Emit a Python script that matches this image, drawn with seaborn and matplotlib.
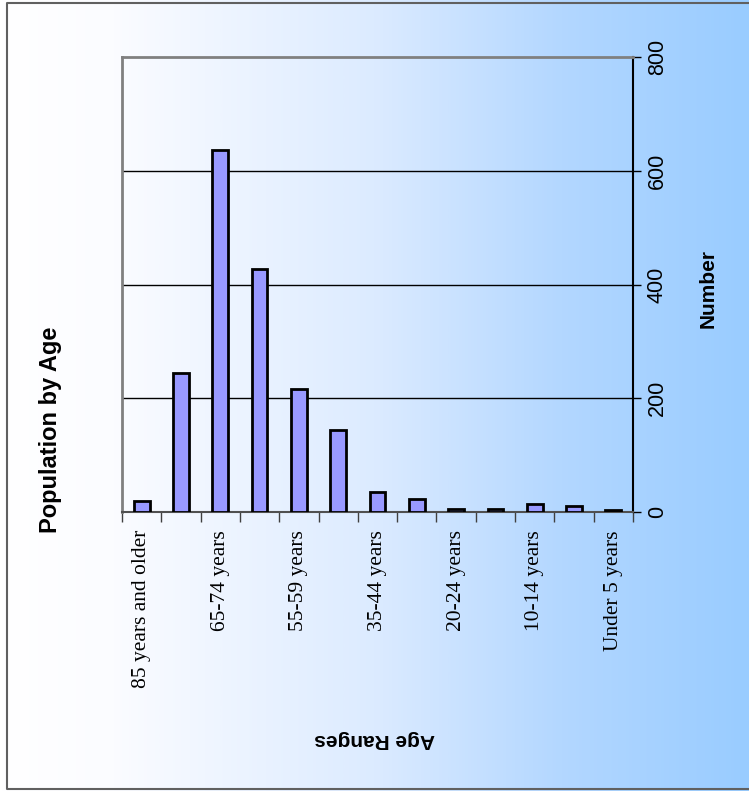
import numpy as np
import pandas as pd
import matplotlib
matplotlib.use("Agg")
import matplotlib.pyplot as plt
import seaborn as sns
from matplotlib.colors import LinearSegmentedColormap

categories = ["85 years and older", "75-84 years", "65-74 years", "60-64 years",
              "55-59 years", "45-54 years", "35-44 years", "25-34 years",
              "20-24 years", "15-19 years", "10-14 years", "5-9 years",
              "Under 5 years"]
values = [20, 245, 637, 428, 217, 144, 36, 22, 6, 6, 14, 10, 4]
yticks = [0, 200, 400, 600, 800]

df = pd.DataFrame({"age": categories, "number": values})

sns.set_theme(style="white")
plt.rcParams["font.family"] = ["Liberation Sans", "DejaVu Sans"]
plt.rcParams["text.color"] = "black"
plt.rcParams["xtick.color"] = "black"
plt.rcParams["ytick.color"] = "black"
plt.rcParams["axes.labelcolor"] = "black"

fig = plt.figure(figsize=(7.49, 7.91), dpi=100)

# background gradient
bg = fig.add_axes([0, 0, 1, 1], zorder=0)
cmap = LinearSegmentedColormap.from_list(
    "g", [(0.0, "#ffffff"), (0.15, "#fbfcff"), (0.5, "#dcebff"),
          (0.75, "#b3d7ff"), (1.0, "#99ccff")])
grad = np.linspace(0, 1, 512).reshape(1, -1)
bg.imshow(grad, aspect="auto", cmap=cmap, extent=[0, 1, 0, 1])
x0, ytop, ybot = 7/749, 1 - 3/791, 1 - 789/791
bg.plot([1.01, x0, x0, 1.01], [ytop, ytop, ybot, ybot], color="#606060", lw=1.5)
bg.set_xlim(0, 1); bg.set_ylim(0, 1)
bg.axis("off")

ax = fig.add_axes([122/749, 1 - 512/791, (633 - 122)/749, (512 - 57)/791], zorder=1)
ax.set_facecolor("none")
sns.barplot(data=df, x="age", y="number", order=categories, color="#9999ff",
            edgecolor="black", linewidth=2, width=0.4, saturation=1, ax=ax, zorder=3)

ax.set_ylim(0, 800)
ax.set_xlim(-0.5, len(categories) - 0.5)
ax.set_yticks(yticks)
ax.tick_params(axis="y", direction="out", length=6, width=1, color="black",
               pad=4, right=True, left=False, labelright=True, labelleft=False,
               labelsize=15.5)
for t in yticks[1:-1]:
    ax.axhline(t, color="black", lw=1, zorder=1)

# category axis: ticks between categories, labels every other category
ax.set_xticks(np.arange(-0.5, len(categories), 1.0), minor=True)
ax.set_xticks(np.arange(0, len(categories), 2))
ax.set_xticklabels([categories[i] for i in range(0, len(categories), 2)],
                   family="Liberation Serif")
ax.tick_params(axis="x", which="major", length=0, pad=13, labelsize=15.5)
ax.tick_params(axis="x", which="minor", direction="out", length=7, width=1,
               color="#404040", bottom=True)
ax.set_xlabel("")
ax.set_ylabel("")

for tick in ax.yaxis.get_major_ticks():
    for lab in (tick.label1, tick.label2):
        lab.set_fontfamily("Liberation Sans")
        lab.set_rotation(90)
        lab.set_va("center")
        lab.set_ha("left")
for tick in ax.xaxis.get_major_ticks():
    tick.label1.set_fontfamily("Liberation Serif")
    tick.label1.set_rotation(90)
    tick.label1.set_va("top")
    tick.label1.set_ha("center")

for s in ["left", "top"]:
    ax.spines[s].set_color("#808080")
    ax.spines[s].set_linewidth(2)
ax.spines["right"].set_color("black")
ax.spines["right"].set_linewidth(1.5)
ax.spines["bottom"].set_color("#505050")
ax.spines["bottom"].set_linewidth(1.5)

fig.text(51/749, 1 - 430/791, "Population by Age", rotation=90, ha="center",
         va="center", fontsize=17, fontweight="bold", color="black")
fig.text(708/749, 1 - 288/791, "Number", rotation=90, ha="center",
         va="center", fontsize=15, fontweight="bold", color="black")
fig.text(375/749, 1 - 740/791, "Age Ranges", rotation=180, ha="center",
         va="center", fontsize=15, fontweight="bold", color="black")

fig.savefig("out.png", dpi=100)
